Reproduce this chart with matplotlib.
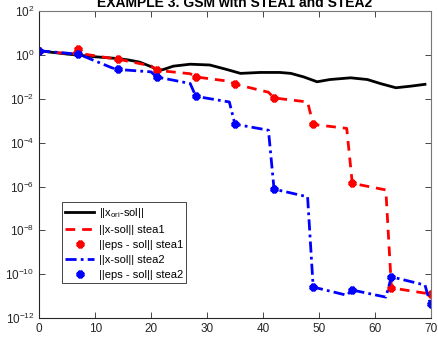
import numpy as np
import matplotlib
matplotlib.use('Agg')
from matplotlib import pyplot as plt
from matplotlib import ticker

plt.rcParams['font.family'] = ['Liberation Sans', 'DejaVu Sans']
plt.rcParams['mathtext.default'] = 'regular'

# black curve ||x_ori - sol||
ori_x = [0, 5, 10, 14, 16, 18, 19.5, 21, 22, 24, 27, 30.5, 33.5, 36, 39.5, 43, 45,
         47.3, 49.7, 52, 55.7, 58.7, 61, 63.8, 66.5, 69]
ori_err = [1.55, 1.1, 0.83, 0.69, 0.59, 0.47, 0.33, 0.23, 0.21, 0.31, 0.38, 0.35, 0.22,
           0.145, 0.16, 0.16, 0.145, 0.10, 0.06, 0.076, 0.091, 0.076, 0.05, 0.032,
           0.038, 0.046]

# stea1 line (markers + knee before each drop)
s1_x = [0, 6, 7, 8, 13, 14, 20, 21, 27, 28, 34, 35, 41, 42, 48, 49, 55, 56, 62, 63, 66, 70]
s1_err = [1.55, 1.1, 1.85, 1.1, 0.7, 0.65, 0.32, 0.2, 0.14, 0.1, 0.063, 0.047, 0.02,
          0.011, 0.0072, 6.8e-4, 4.5e-4, 1.4e-6, 7e-7, 2.4e-11, 1.8e-11, 1.25e-11]

# stea2 line
s2_x = [0, 6, 7, 13, 14, 20, 21, 27, 28, 34, 35, 41, 42, 48, 49, 55, 56, 62, 63, 69, 70]
s2_err = [1.55, 1.15, 1.1, 0.26, 0.22, 0.17, 0.1, 0.05, 0.013, 0.0072, 7e-4, 3.7e-4,
          7.6e-7, 3.4e-7, 2.6e-11, 1.1e-11, 1.9e-11, 9e-12, 7.6e-11, 3.2e-11, 4.2e-12]

# eps markers every 7 iterations
eps_x = [0, 7, 14, 21, 28, 35, 42, 49, 56, 63, 70]
eps1 = [1.55, 1.85, 0.65, 0.2, 0.1, 0.047, 0.011, 6.8e-4, 1.4e-6, 2.4e-11, 1.25e-11]
eps2 = [1.55, 1.1, 0.22, 0.1, 0.013, 7e-4, 7.6e-7, 2.6e-11, 1.9e-11, 7.6e-11, 4.2e-12]

star = (8, 2, 0)

fig = plt.figure(figsize=(4.38, 3.38), dpi=100)
ax = fig.add_axes([0.0897, 0.059, 0.8933, 0.908])

ax.semilogy(ori_x, ori_err, color='black', lw=2, label='||x$_{ori}$-sol||')
ax.semilogy(s1_x, s1_err, color='red', lw=2, ls=(0, (3.5, 2.5)), label='||x-sol|| stea1')
ax.semilogy(eps_x, eps1, ls='none', marker=star, ms=5.5, mew=2.4, color='red',
            label='||eps - sol|| stea1')
ax.semilogy(s2_x, s2_err, color='blue', lw=2, ls=(0, (4, 1.5, 1, 1.5)), label='||x-sol|| stea2')
ax.semilogy(eps_x, eps2, ls='none', marker=star, ms=5.5, mew=2.4, color='blue',
            label='||eps - sol|| stea2')

ax.set_xlim(0, 70)
ax.set_ylim(1e-12, 1e2)
ax.set_xticks(np.arange(0, 71, 10))
ax.yaxis.set_major_locator(ticker.FixedLocator([10.0**k for k in range(-12, 3, 2)]))
ax.yaxis.set_minor_locator(ticker.NullLocator())
ax.tick_params(direction='in', top=True, right=True, labelsize=8.5,
               labelcolor='#262626', color='#262626', length=4, width=0.6)
for side in ['top', 'right']:
    ax.spines[side].set_color('#777777')
for side in ['left', 'bottom']:
    ax.spines[side].set_color('#262626')
    ax.spines[side].set_linewidth(0.8)

ax.set_title('EXAMPLE 3. GSM with STEA1 and STEA2', fontsize=10, fontweight='bold', pad=3)

leg = ax.legend(loc='lower left', bbox_to_anchor=(0.058, 0.114), fontsize=8,
                frameon=True, fancybox=False, edgecolor='#262626', framealpha=1,
                handlelength=2.6, handletextpad=0.4, borderpad=0.3, labelspacing=0.45,
                borderaxespad=0)
leg.get_frame().set_linewidth(0.6)

fig.savefig('out.png', dpi=100)
